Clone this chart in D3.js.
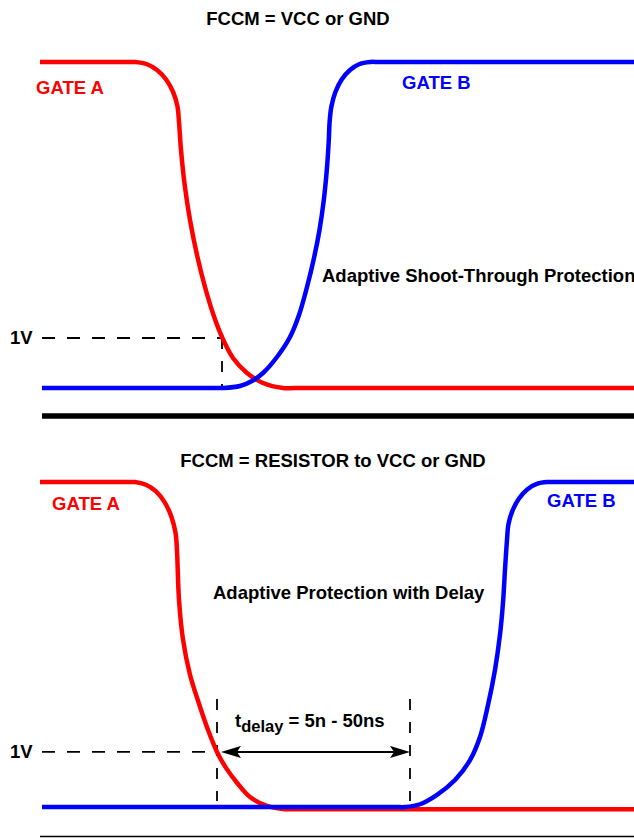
<!DOCTYPE html>
<html>
<head>
<meta charset="utf-8">
<script src="https://cdn.jsdelivr.net/npm/d3@7"></script>
<style>
body { margin: 0; background: #fff; }
svg text { font-family: "Liberation Sans", Arial, sans-serif; font-weight: bold; }
</style>
</head>
<body>
<div id="chart"></div>
<script>
// time in ns, gate voltage in V
var timeRange = [0, 59.4];
var threshold = 1;
var topVcc = 6.52;
var bottomVcc = 5.9;

var topGateA = [[0, 6.52], [9, 6.52], [9.5, 6.52], [10.64, 6.48], [11.7, 6.36], [12.61, 6.17], [13.31, 5.92],
	[13.75, 5.63], [13.9, 5.32], [14.1, 4.76], [14.47, 4.06], [15, 3.36], [15.7, 2.66], [16.5, 2.02],
	[17.35, 1.46], [18.2, 1.02], [19.3, 0.6], [20.7, 0.3], [22.3, 0.1], [24.3, 0], [25.5, 0], [59.4, 0]];
var topGateB = [[0.2, 0], [17.5, 0], [18.3, 0], [20, 0.04], [21.2, 0.14], [22.3, 0.3], [23.7, 0.62], [25, 1.02],
	[25.9, 1.46], [26.7, 2.02], [27.4, 2.6], [27.95, 3.16], [28.38, 3.76], [28.68, 4.36], [28.88, 4.96],
	[28.96, 5.32], [29.14, 5.63], [29.54, 5.92], [30.17, 6.17], [31, 6.36], [31.96, 6.48], [33, 6.52],
	[34, 6.52], [59.4, 6.52]];

var bottomGateA = [[0, 5.9], [9, 5.9], [9.5, 5.9], [10.59, 5.85], [11.6, 5.73], [12.47, 5.53], [13.14, 5.27],
	[13.56, 4.97], [13.7, 4.65], [13.9, 3.76], [14.3, 3.04], [15, 2.4], [16, 1.82], [16.8, 1.4], [17.7, 1.0],
	[18.6, 0.71], [19.7, 0.44], [21, 0.18], [22.7, 0.02], [24.5, -0.04], [25.5, -0.04], [59.4, -0.04]];
var bottomGateB = [[0.2, 0], [35.5, 0], [36.5, 0], [38, 0.05], [39.7, 0.22], [41.5, 0.49], [43, 0.85], [44, 1.27],
	[44.8, 1.85], [45.5, 2.49], [46, 3.13], [46.3, 3.71], [46.5, 4.31], [46.7, 4.85], [46.84, 5.13],
	[47.25, 5.38], [47.9, 5.6], [48.75, 5.77], [49.74, 5.87], [50.8, 5.9], [51.8, 5.9], [59.4, 5.9]];

var topCross = 18.2;
var delayMarks = [17.7, 37];
var delayMarkV = [0.11, 1.96];

var titles = ["FCCM = VCC or GND", "FCCM = RESISTOR to VCC or GND"];
var notes = ["Adaptive Shoot-Through Protection", "Adaptive Protection with Delay"];
var gateNames = ["GATE A", "GATE B"];
var delayText = ["t", "delay", " = 5n - 50ns"];

var width = 634, height = 838;
var red = '#ff0000', blue = '#0000ff';

var svg = d3.select('#chart').append('svg').attr('width', width).attr('height', height);

svg.append('defs').append('marker')
	.attr('id', 'head')
	.attr('viewBox', '0 0 20 12')
	.attr('refX', 12).attr('refY', 6)
	.attr('markerWidth', 20).attr('markerHeight', 12)
	.attr('markerUnits', 'userSpaceOnUse')
	.attr('orient', 'auto-start-reverse')
	.append('path')
	.attr('d', 'M0,0 L20,6 L0,12 L4,6 Z')
	.attr('fill', '#000');

var x = d3.scaleLinear().domain(timeRange).range([40, 634]);
var yTop = d3.scaleLinear().domain([0, topVcc]).range([388, 62]);
var yBot = d3.scaleLinear().domain([0, bottomVcc]).range([807, 482]);

function wave(y) {
	return d3.line()
		.x(function(d) { return x(d[0]); })
		.y(function(d) { return y(d[1]); })
		.curve(d3.curveCatmullRom.alpha(0.5));
}

function label(txt, px, py, color, anchor) {
	return svg.append('text')
		.attr('x', px).attr('y', py)
		.attr('fill', color || '#000')
		.attr('text-anchor', anchor || 'start')
		.style('font-size', '18.5px')
		.text(txt);
}

function dashed(x1, y1, x2, y2, dash) {
	svg.append('line')
		.attr('x1', x1).attr('y1', y1).attr('x2', x2).attr('y2', y2)
		.attr('stroke', '#000').attr('stroke-width', 1.8)
		.attr('stroke-dasharray', dash);
}

// ---- top panel
label(titles[0], 298, 25, '#000', 'middle');
dashed(x(0.2), yTop(threshold), x(topCross), yTop(threshold), '13,12');
dashed(x(topCross), yTop(threshold), x(topCross), yTop(0), '11,12');

svg.append('path').datum(topGateA)
	.attr('d', wave(yTop)).attr('fill', 'none')
	.attr('stroke', red).attr('stroke-width', 4.5);
svg.append('path').datum(topGateB)
	.attr('d', wave(yTop)).attr('fill', 'none')
	.attr('stroke', blue).attr('stroke-width', 4.5);

label(gateNames[0], 36, 94, red);
label(gateNames[1], 402, 89, blue);
label(notes[0], 322, 282);
label('1V', 10, 344);

svg.append('line')
	.attr('x1', 42).attr('x2', width).attr('y1', 416).attr('y2', 416)
	.attr('stroke', '#000').attr('stroke-width', 5.5);

// ---- bottom panel
label(titles[1], 333, 467, '#000', 'middle');
dashed(x(0.2), yBot(threshold), x(delayMarks[0]), yBot(threshold), '13,12');
delayMarks.forEach(function(t) {
	dashed(x(t), yBot(delayMarkV[1]), x(t), yBot(delayMarkV[0]), '11,12');
});

svg.append('path').datum(bottomGateA)
	.attr('d', wave(yBot)).attr('fill', 'none')
	.attr('stroke', red).attr('stroke-width', 4.5);
svg.append('path').datum(bottomGateB)
	.attr('d', wave(yBot)).attr('fill', 'none')
	.attr('stroke', blue).attr('stroke-width', 4.5);

svg.append('line')
	.attr('x1', x(delayMarks[0]) + 12).attr('x2', x(delayMarks[1]) - 8)
	.attr('y1', yBot(threshold)).attr('y2', yBot(threshold))
	.attr('stroke', '#000').attr('stroke-width', 2)
	.attr('marker-start', 'url(#head)')
	.attr('marker-end', 'url(#head)');

label(gateNames[0], 52, 510, red);
label(gateNames[1], 547, 507, blue);
label(notes[1], 213, 599);
label('1V', 10, 758);

var td = label('', 235, 727);
td.append('tspan').text(delayText[0]);
td.append('tspan').attr('dy', 5).style('font-size', '16.5px').text(delayText[1]);
td.append('tspan').attr('dy', -5).text(delayText[2]);

svg.append('line')
	.attr('x1', 40).attr('x2', width).attr('y1', 836.5).attr('y2', 836.5)
	.attr('stroke', '#000').attr('stroke-width', 1.5);
</script>
</body>
</html>
